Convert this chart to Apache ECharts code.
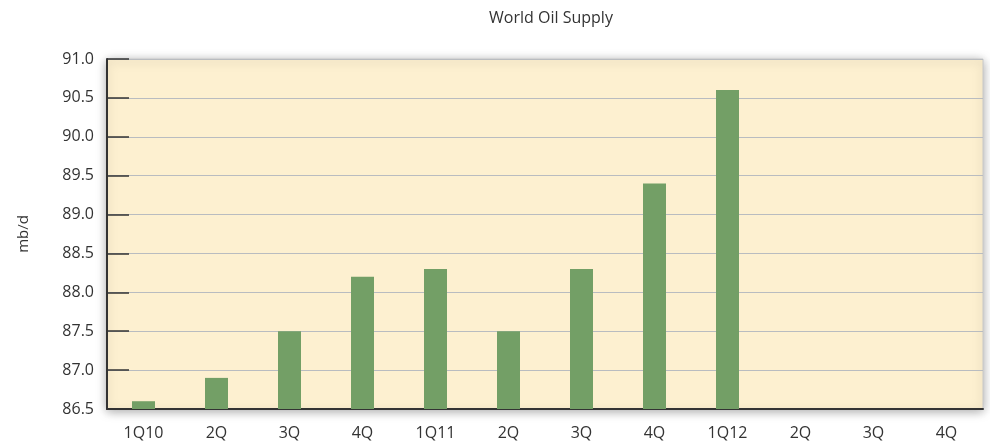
<!DOCTYPE html>
<html>
<head>
<meta charset="utf-8">
<script src="https://cdn.jsdelivr.net/npm/echarts@6/dist/echarts.min.js"></script>
<style>
  html, body { margin: 0; padding: 0; background: #fff; }
  #chart { width: 990px; height: 445px; }
</style>
</head>
<body>
<div id="chart"></div>
<script>
var quarters = ["1Q10", "2Q", "3Q", "4Q", "1Q11", "2Q", "3Q", "4Q", "1Q12", "2Q", "3Q", "4Q"];
var supply = [86.6, 86.9, 87.5, 88.2, 88.3, 87.5, 88.3, 89.4, 90.6, null, null, null];

var chart = echarts.init(document.getElementById("chart"));
var font = "'Open Sans', 'Noto Sans', sans-serif";

chart.setOption({
    animation: false,
    textStyle: { fontFamily: font },
    title: {
        text: "World Oil Supply",
        left: 546,
        top: 5,
        textAlign: "center",
        textStyle: { fontSize: 16, fontWeight: "normal", color: "#333", fontFamily: font }
    },
    grid: {
        show: true,
        left: 107,
        right: 7,
        top: 59,
        bottom: 36,
        backgroundColor: "#fdf0d0",
        borderColor: "#c8c8c8",
        borderWidth: 1,
        shadowColor: "rgba(0,0,0,0.35)",
        shadowBlur: 10,
        shadowOffsetX: 0,
        shadowOffsetY: 2
    },
    xAxis: {
        type: "category",
        data: quarters,
        axisLine: { lineStyle: { color: "#333", width: 2 } },
        axisTick: { inside: true, length: 8, lineStyle: { color: "#333", width: 1.5 } },
        axisLabel: { color: "#333", fontSize: 16, margin: 16, fontFamily: font }
    },
    yAxis: {
        type: "value",
        min: 86.5,
        max: 91.0,
        interval: 0.5,
        name: "mb/d",
        nameLocation: "middle",
        nameGap: 76,
        nameRotate: 90,
        nameTextStyle: { color: "#333", fontSize: 15, fontFamily: font },
        axisLine: { show: true, lineStyle: { color: "#333", width: 2 } },
        axisTick: { show: true, inside: true, length: 22, lineStyle: { color: "#333", width: 1.5 } },
        axisLabel: {
            color: "#333", fontSize: 16, margin: 13, fontFamily: font,
            formatter: function (v) { return v.toFixed(1); }
        },
        splitLine: { lineStyle: { color: "#b9bcc0", width: 1 } }
    },
    series: [{
        type: "bar",
        data: supply,
        barWidth: 23,
        itemStyle: { color: "#739f66" }
    }]
});
</script>
</body>
</html>
